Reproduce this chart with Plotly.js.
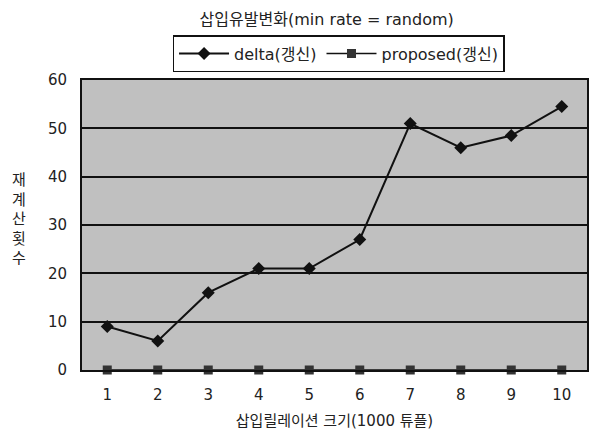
<!DOCTYPE html>
<html>
<head>
<meta charset="utf-8">
<script src="https://cdn.plot.ly/plotly-3.0.1.min.js"></script>
<style>
  html, body { margin: 0; padding: 0; background: #fff; }
  #chart { width: 594px; height: 430px; }
</style>
</head>
<body>
<div id="chart"></div>
<script>
// Insertion relation size (x1000 tuples)
const sizes = [1, 2, 3, 4, 5, 6, 7, 8, 9, 10];
// Recomputation counts per method
const deltaCounts = [9, 6, 16, 21, 21, 27, 51, 46, 48.5, 54.5];
const proposedCounts = [0, 0, 0, 0, 0, 0, 0, 0, 0, 0];

const FONT = '"DejaVu Sans", "Noto Sans CJK KR", sans-serif';
const INK = '#222';

const traces = [
  {
    x: sizes, y: deltaCounts, name: 'delta(갱신)', type: 'scatter', mode: 'lines+markers',
    line: { color: '#111', width: 2 },
    marker: { symbol: 'diamond', size: 10, color: '#111' },
    cliponaxis: false
  },
  {
    x: sizes, y: proposedCounts, name: 'proposed(갱신)', type: 'scatter', mode: 'lines+markers',
    line: { color: '#111', width: 1.5 },
    marker: { symbol: 'square', size: 9, color: '#333' },
    cliponaxis: false
  }
];

const layout = {
  width: 594, height: 430,
  margin: { l: 82, r: 7, t: 80, b: 60 },
  paper_bgcolor: '#ffffff',
  plot_bgcolor: '#c0c0c0',
  font: { family: FONT, size: 14, color: INK },
  title: {
    text: '삽입유발변화(min rate = random)',
    font: { family: FONT, size: 16, color: INK },
    x: 0.55, xanchor: 'center', y: 0.955, yanchor: 'middle'
  },
  showlegend: true,
  legend: {
    orientation: 'h', x: 0.508, xanchor: 'center', y: 1.155, yanchor: 'top',
    bordercolor: '#111', borderwidth: 1.5, bgcolor: '#ffffff',
    font: { family: FONT, size: 16, color: INK },
    itemwidth: 50, tracegroupgap: 0
  },
  xaxis: {
    range: [0.5, 10.5], tickmode: 'array', tickvals: sizes, ticktext: sizes.map(String),
    showgrid: false, zeroline: false, ticks: '', ticklabelstandoff: 10,
    showline: true, linecolor: '#111', linewidth: 2, mirror: true,
    tickfont: { family: FONT, size: 15, color: INK },
    title: { text: '삽입릴레이션 크기(1000 튜플)', font: { family: FONT, size: 15, color: INK }, standoff: 13 }
  },
  yaxis: {
    range: [0, 60], dtick: 10, showgrid: true, gridcolor: '#111', gridwidth: 2,
    zeroline: false, ticks: '', ticklabelstandoff: 10,
    showline: true, linecolor: '#111', linewidth: 2, mirror: true,
    tickfont: { family: FONT, size: 15, color: INK }
  },
  annotations: [
    {
      text: '재<br>계<br>산<br>횟<br>수', xref: 'paper', yref: 'paper',
      x: -0.125, y: 0.52, xanchor: 'center', yanchor: 'middle', showarrow: false,
      font: { family: FONT, size: 15, color: INK }, align: 'center'
    }
  ]
};

Plotly.newPlot('chart', traces, layout, { displayModeBar: false, staticPlot: true });
</script>
</body>
</html>
